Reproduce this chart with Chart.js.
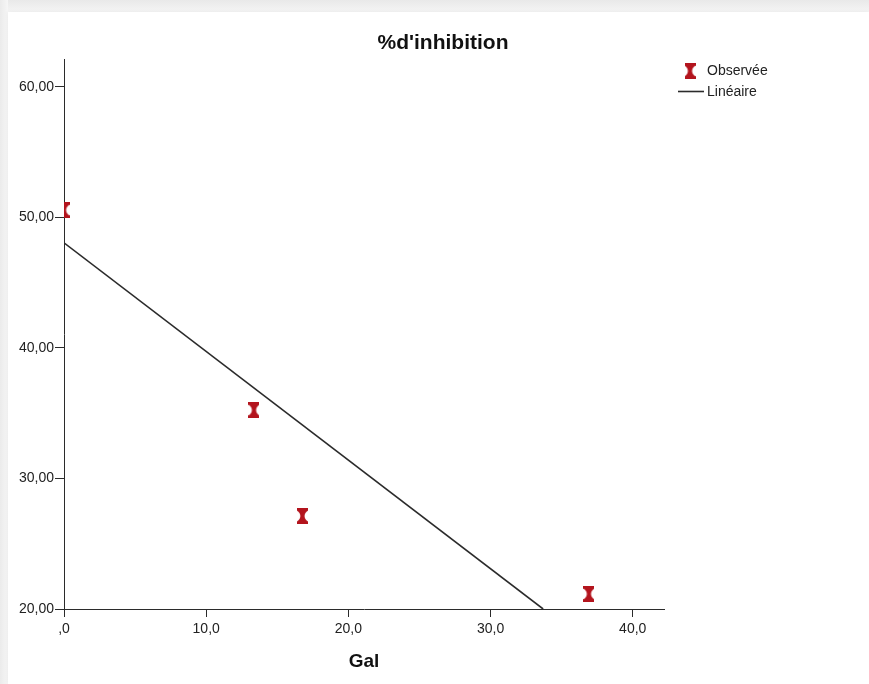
<!DOCTYPE html>
<html lang="fr">
<head>
<meta charset="utf-8">
<title>%d'inhibition</title>
<script src="https://cdn.jsdelivr.net/npm/chart.js@4.4.1/dist/chart.umd.min.js"></script>
<style>
  html, body { margin: 0; padding: 0; background: #ffffff; }
  #wrap { position: relative; width: 869px; height: 684px; overflow: hidden; background: #ffffff; }
  #frameTop { position: absolute; left: 0; top: 0; width: 869px; height: 12px;
    background: linear-gradient(to bottom, #e9e9e9, #f5f5f5); }
  #frameLeft { position: absolute; left: 0; top: 0; width: 8px; height: 684px;
    background: linear-gradient(to right, #ebebeb, #f6f6f6); }
  #panel { position: absolute; left: 8px; top: 12px; width: 861px; height: 672px; background: #ffffff;
    box-shadow: 0 0 4px rgba(0,0,0,0.06); }
  canvas { position: absolute; left: 0; top: 0; }
</style>
</head>
<body>
<div id="wrap">
  <div id="frameTop"></div>
  <div id="frameLeft"></div>
  <div id="panel"></div>
  <canvas id="chart" width="869" height="684"></canvas>
</div>
<script>
// Observed values (Gal vs %d'inhibition)
const obsX = [0.0, 13.36, 16.77, 36.92];
const obsY = [50.56, 35.24, 27.12, 21.15];

// Fitted linear model, drawn between its two ends
const fitX = [0.0, 33.7];
const fitY = [48.05, 20.0];

// Axis ticks and their labels
const xTickValues = [0, 10, 20, 30, 40];
const xTickLabels = [',0', '10,0', '20,0', '30,0', '40,0'];
const yTickValues = [20, 30, 40, 50, 60];
const yTickLabels = ['20,00', '30,00', '40,00', '50,00', '60,00'];

const seriesLabels = ['Observée', 'Linéaire'];

const FONT = '"Liberation Sans", Arial, Helvetica, sans-serif';
const RED = '#b3141d';
const INK = '#2b2b2b';

// Hourglass marker used for the observed points
function hourglass(color) {
  const w = 11, h = 16;
  const c = document.createElement('canvas');
  c.width = w; c.height = h;
  const g = c.getContext('2d');
  g.fillStyle = color;
  g.beginPath();
  g.moveTo(0, 0);
  g.lineTo(w, 0);
  g.lineTo(w, 2.5);
  g.quadraticCurveTo(7.6, 4.8, 7.6, 8);
  g.quadraticCurveTo(7.6, 11.2, w, 13.5);
  g.lineTo(w, h);
  g.lineTo(0, h);
  g.lineTo(0, 13.5);
  g.quadraticCurveTo(3.4, 11.2, 3.4, 8);
  g.quadraticCurveTo(3.4, 4.8, 0, 2.5);
  g.closePath();
  g.fill();
  return c;
}
const marker = hourglass(RED);

// Legend drawn to the right of the plot
const sideLegend = {
  id: 'sideLegend',
  afterDraw(chart) {
    const ctx = chart.ctx;
    const ds = chart.data.datasets;
    ctx.save();
    ctx.font = '14px ' + FONT;
    ctx.fillStyle = '#222222';
    ctx.textBaseline = 'middle';
    ctx.textAlign = 'left';
    // observed
    ctx.drawImage(marker, 690 - marker.width / 2, 71 - marker.height / 2);
    ctx.fillText(ds[0].label, 707, 71);
    // linear
    ctx.strokeStyle = INK;
    ctx.lineWidth = 1.6;
    ctx.beginPath();
    ctx.moveTo(678, 91.5);
    ctx.lineTo(704, 91.5);
    ctx.stroke();
    ctx.fillText(ds[1].label, 707, 92);
    ctx.restore();
  }
};

const tickFont = { family: FONT, size: 14 };

new Chart(document.getElementById('chart'), {
  type: 'scatter',
  data: {
    datasets: [
      {
        label: seriesLabels[0],
        data: obsX.map((x, i) => ({ x, y: obsY[i] })),
        pointStyle: marker,
        pointRadius: 8,
        pointHoverRadius: 8,
        showLine: false,
        clip: 0,
        order: 1
      },
      {
        label: seriesLabels[1],
        data: fitX.map((x, i) => ({ x, y: fitY[i] })),
        showLine: true,
        borderColor: INK,
        borderWidth: 1.6,
        pointRadius: 0,
        pointHoverRadius: 0,
        clip: 0,
        order: 2
      }
    ]
  },
  options: {
    responsive: false,
    animation: false,
    devicePixelRatio: 1,
    events: [],
    layout: { padding: { left: 17, right: 0, top: 0, bottom: 0 } },
    plugins: {
      legend: { display: false },
      tooltip: { enabled: false },
      title: {
        display: true,
        text: "%d'inhibition",
        color: '#111111',
        font: { family: FONT, size: 21, weight: 'bold', lineHeight: 1.2 },
        padding: { top: 31, bottom: 3 }
      }
    },
    scales: {
      x: {
        type: 'linear',
        position: 'bottom',
        min: 0,
        max: 42.2,
        afterFit(s) { s.height = 75; },
        afterBuildTicks(s) { s.ticks = xTickValues.map(v => ({ value: v })); },
        border: { display: true, color: INK, width: 1 },
        grid: { display: true, drawOnChartArea: false, drawTicks: true, tickLength: 8, color: INK, tickColor: INK },
        ticks: {
          autoSkip: false, maxRotation: 0, padding: 4, color: '#222222', font: tickFont,
          callback(v) { const i = xTickValues.indexOf(v); return i >= 0 ? xTickLabels[i] : ''; }
        },
        title: {
          display: true,
          text: 'Gal',
          color: '#111111',
          font: { family: FONT, size: 19, weight: 'bold', lineHeight: 1.2 },
          padding: { top: 0, bottom: 11 }
        }
      },
      y: {
        type: 'linear',
        position: 'left',
        min: 20,
        max: 62.12,
        afterFit(s) { s.width = 47; },
        afterBuildTicks(s) { s.ticks = yTickValues.map(v => ({ value: v })); },
        border: { display: true, color: INK, width: 1 },
        grid: { display: true, drawOnChartArea: false, drawTicks: true, tickLength: 9, color: INK, tickColor: INK },
        ticks: {
          autoSkip: false, padding: 1, color: '#222222', font: tickFont,
          callback(v) { const i = yTickValues.indexOf(v); return i >= 0 ? yTickLabels[i] : ''; }
        }
      },
      side: {
        type: 'linear',
        position: 'right',
        display: true,
        afterFit(s) { s.width = 205; },
        border: { display: false },
        grid: { display: false },
        ticks: { display: false }
      }
    }
  },
  plugins: [sideLegend]
});
</script>
</body>
</html>
